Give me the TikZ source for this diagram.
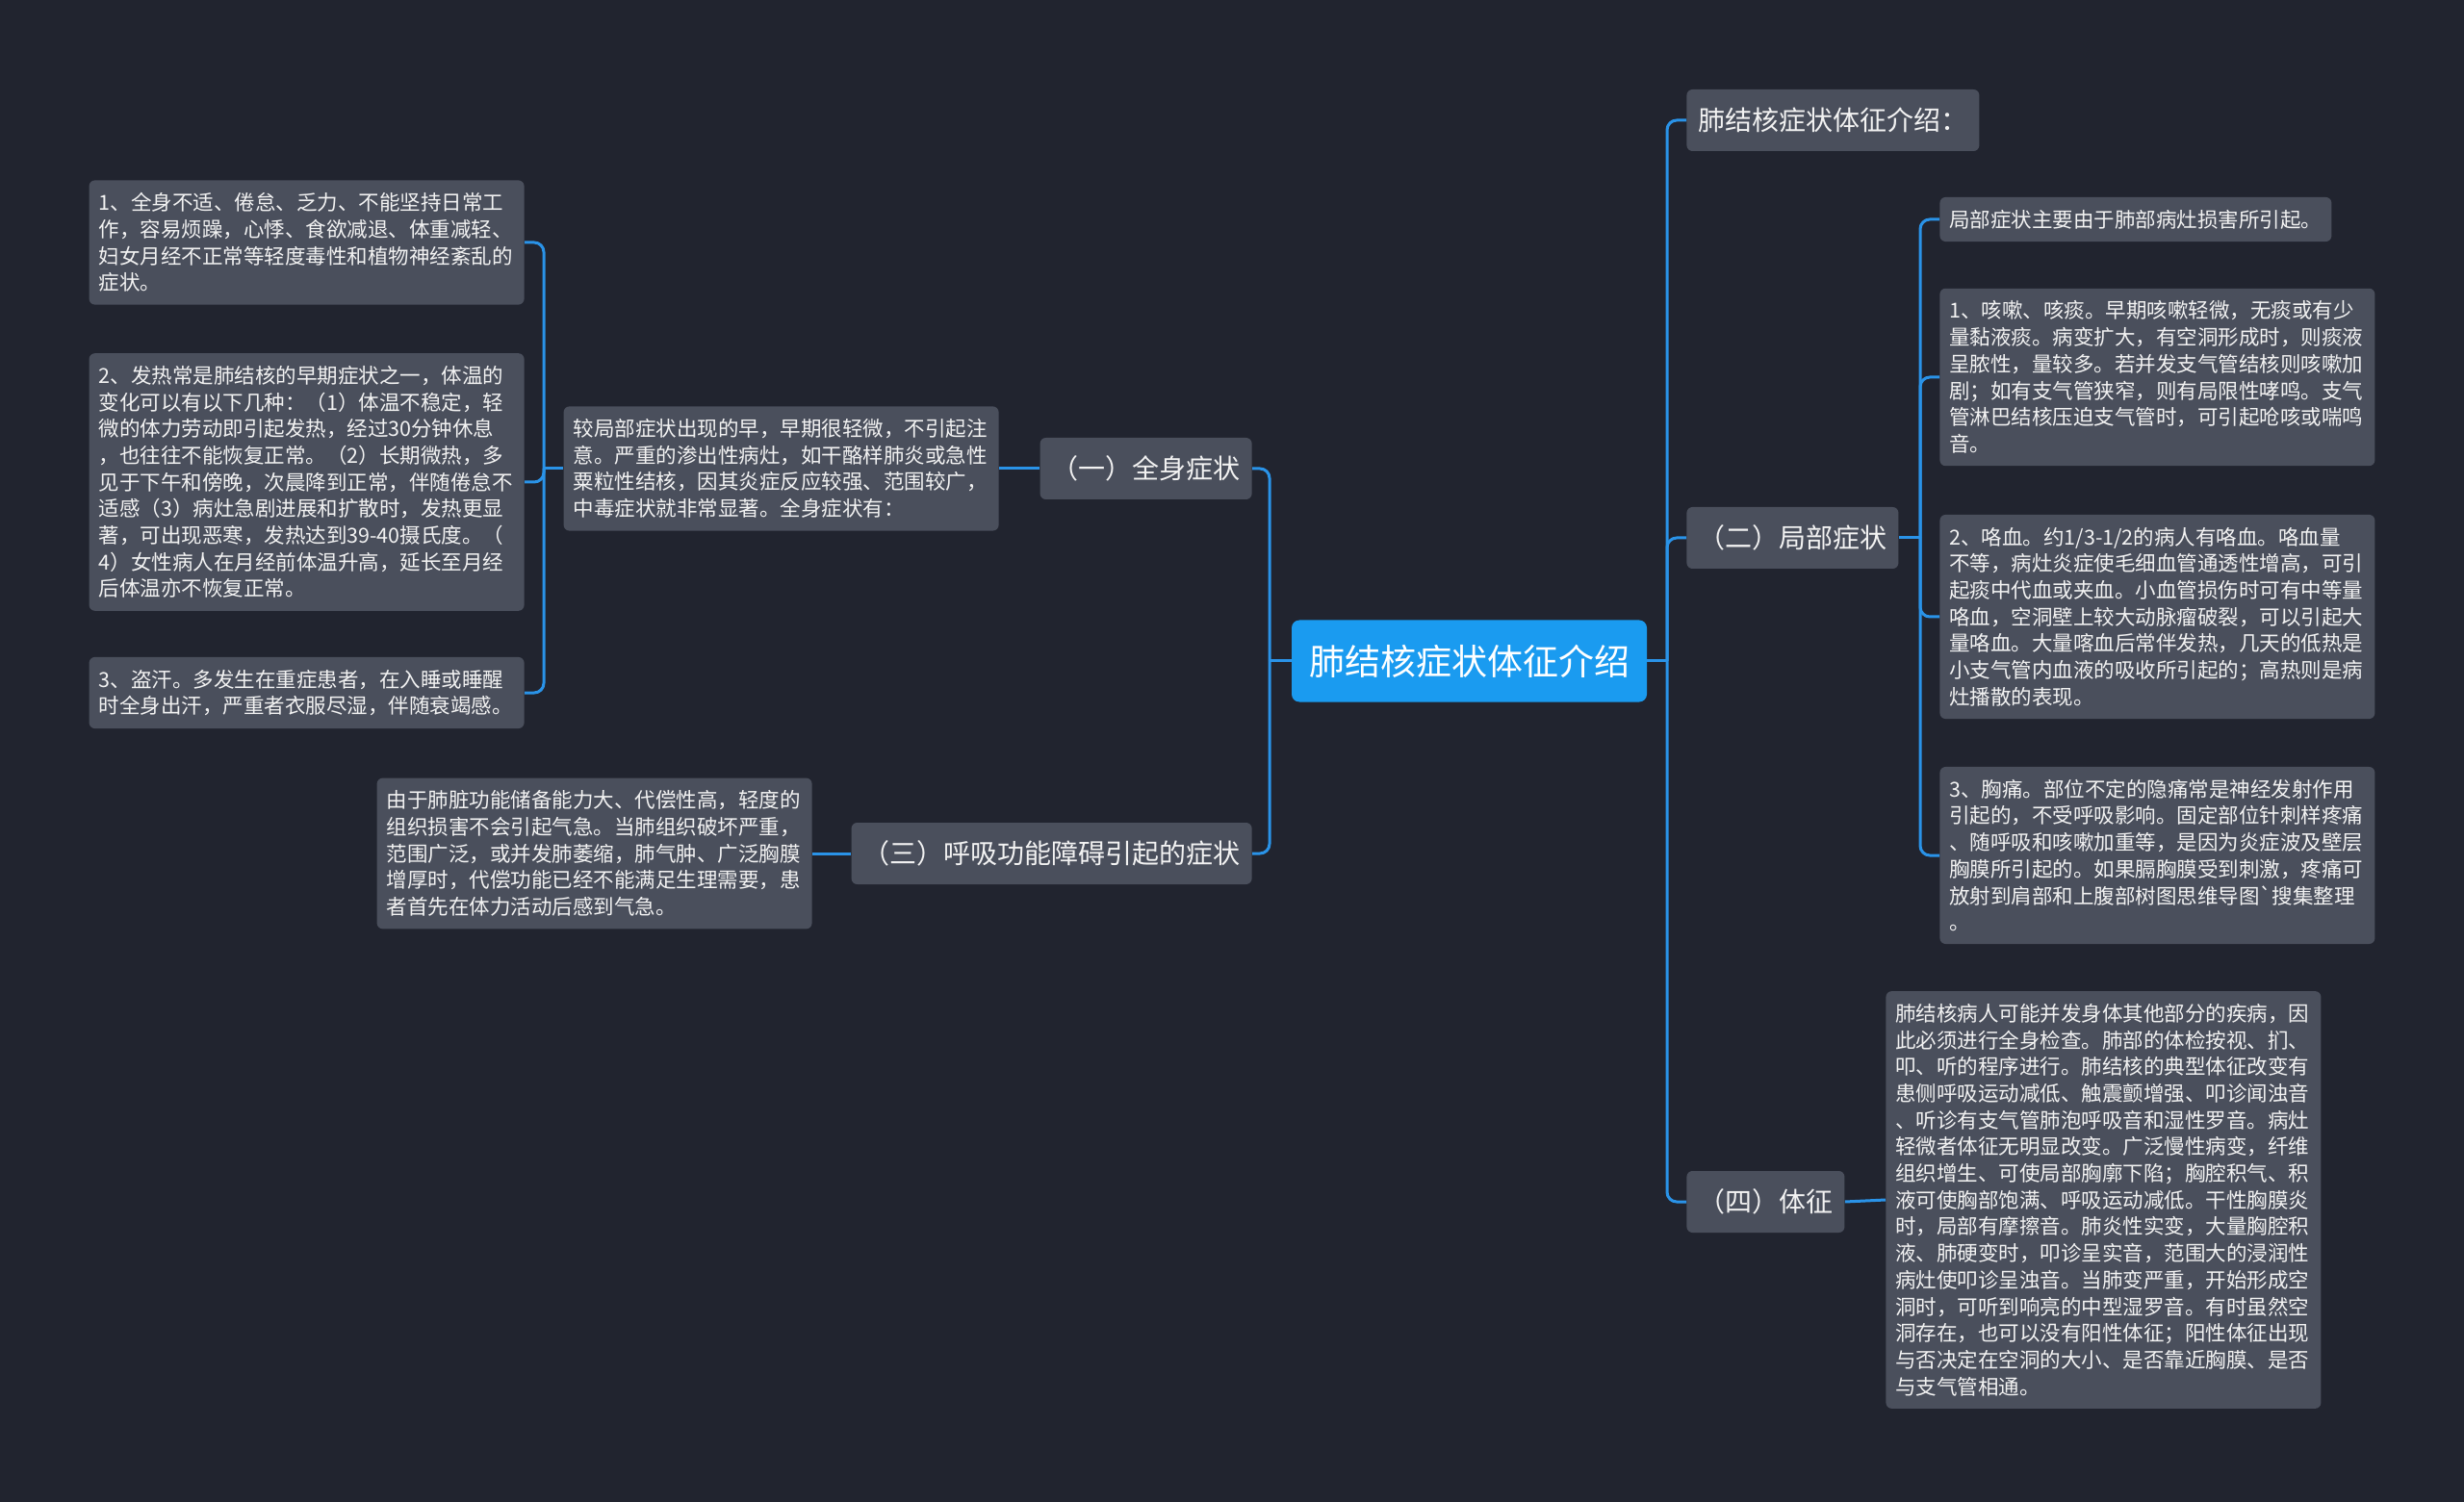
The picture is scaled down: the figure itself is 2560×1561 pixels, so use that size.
\documentclass[tikz,border=0pt]{standalone}
\usepackage{xcolor}
\usepackage{tikz}
\usepackage{fontspec}
\usetikzlibrary{positioning, calc}
\newfontfamily\cjk{Noto Sans CJK SC}
\definecolor{bgcolor}{HTML}{21242F}
\definecolor{boxcolor}{HTML}{4A4F5C}
\definecolor{rootcolor}{HTML}{1A9BF0}
\definecolor{linkcolor}{HTML}{2A93E8}
\definecolor{textcolor}{HTML}{F2F2F2}

\begin{document}
\begin{tikzpicture}[
  x=0.5pt, y=-0.5pt,
  root/.style={
    rectangle,
    rounded corners=4pt,
    fill=rootcolor,
    text=white,
    font=\cjk\fontsize{18.5pt}{22pt}\selectfont,
    minimum width=184.5pt,
    minimum height=42.5pt,
    inner sep=0pt
  },
  topic/.style={
    rectangle,
    rounded corners=3pt,
    fill=boxcolor,
    text=textcolor,
    font=\cjk\fontsize{14pt}{17pt}\selectfont,
    minimum height=32pt,
    inner xsep=6pt,
    inner ysep=0pt
  },
  note/.style={
    rectangle,
    rounded corners=3pt,
    fill=boxcolor,
    text=textcolor,
    font=\cjk\fontsize{10.75pt}{13.85pt}\selectfont,
    align=left,
    inner xsep=5pt,
    inner ysep=6.5pt
  },
  leaf/.style={note, text width=216pt},
  link/.style={draw=linkcolor, line width=1.5pt, rounded corners=5pt}
]
  % Background
  \fill[bgcolor] (0,0) rectangle (2560,1561);
  \useasboundingbox (0,0) rectangle (2560,1561);

  % Centre
  \node[root] (root) at (1526.5,687) {肺结核症状体征介绍};

  % Left branches
  \node[topic, anchor=east] (general) at (1301,487) {（一）全身症状};
  \node[topic, anchor=east] (breath) at (1301,887) {（三）呼吸功能障碍引起的症状};

  \node[leaf, anchor=east] (generalintro) at (1038,487) {较局部症状出现的早，早期很轻微，不引起注\\意。严重的渗出性病灶，如干酪样肺炎或急性\\粟粒性结核，因其炎症反应较强、范围较广，\\中毒症状就非常显著。全身症状有：};
  \node[leaf, anchor=east] (breathnote) at (844,887) {由于肺脏功能储备能力大、代偿性高，轻度的\\组织损害不会引起气急。当肺组织破坏严重，\\范围广泛，或并发肺萎缩，肺气肿、广泛胸膜\\增厚时，代偿功能已经不能满足生理需要，患\\者首先在体力活动后感到气急。};

  \node[leaf, anchor=east] (fatigue) at (545,252) {1、全身不适、倦怠、乏力、不能坚持日常工\\作，容易烦躁，心悸、食欲减退、体重减轻、\\妇女月经不正常等轻度毒性和植物神经紊乱的\\症状。};
  \node[leaf, anchor=east] (fever) at (545,501) {2、发热常是肺结核的早期症状之一，体温的\\变化可以有以下几种：（1）体温不稳定，轻\\微的体力劳动即引起发热，经过30分钟休息\\，也往往不能恢复正常。（2）长期微热，多\\见于下午和傍晚，次晨降到正常，伴随倦怠不\\适感（3）病灶急剧进展和扩散时，发热更显\\著，可出现恶寒，发热达到39-40摄氏度。（\\4）女性病人在月经前体温升高，延长至月经\\后体温亦不恢复正常。};
  \node[leaf, anchor=east] (sweat) at (545,720) {3、盗汗。多发生在重症患者，在入睡或睡醒\\时全身出汗，严重者衣服尽湿，伴随衰竭感。};

  % Right branches
  \node[topic, anchor=west] (intro) at (1752,125) {肺结核症状体征介绍：};
  \node[topic, anchor=west] (local) at (1752,559) {（二）局部症状};
  \node[topic, anchor=west] (signs) at (1752,1249) {（四）体征};

  \node[note, anchor=west] (localintro) at (2015,228) {局部症状主要由于肺部病灶损害所引起。};
  \node[leaf, anchor=west] (cough) at (2015,392) {1、咳嗽、咳痰。早期咳嗽轻微，无痰或有少\\量黏液痰。病变扩大，有空洞形成时，则痰液\\呈脓性，量较多。若并发支气管结核则咳嗽加\\剧；如有支气管狭窄，则有局限性哮鸣。支气\\管淋巴结核压迫支气管时，可引起呛咳或喘鸣\\音。};
  \node[leaf, anchor=west] (blood) at (2015,641) {2、咯血。约1/3-1/2的病人有咯血。咯血量\\不等，病灶炎症使毛细血管通透性增高，可引\\起痰中代血或夹血。小血管损伤时可有中等量\\咯血，空洞壁上较大动脉瘤破裂，可以引起大\\量咯血。大量喀血后常伴发热，几天的低热是\\小支气管内血液的吸收所引起的；高热则是病\\灶播散的表现。};
  \node[leaf, anchor=west] (chestpain) at (2015,889) {3、胸痛。部位不定的隐痛常是神经发射作用\\引起的，不受呼吸影响。固定部位针刺样疼痛\\、随呼吸和咳嗽加重等，是因为炎症波及壁层\\胸膜所引起的。如果膈胸膜受到刺激，疼痛可\\放射到肩部和上腹部树图思维导图`搜集整理\\。};
  \node[leaf, anchor=west] (signsnote) at (1959,1247) {肺结核病人可能并发身体其他部分的疾病，因\\此必须进行全身检查。肺部的体检按视、扪、\\叩、听的程序进行。肺结核的典型体征改变有\\患侧呼吸运动减低、触震颤增强、叩诊闻浊音\\、听诊有支气管肺泡呼吸音和湿性罗音。病灶\\轻微者体征无明显改变。广泛慢性病变，纤维\\组织增生、可使局部胸廓下陷；胸腔积气、积\\液可使胸部饱满、呼吸运动减低。干性胸膜炎\\时，局部有摩擦音。肺炎性实变，大量胸腔积\\液、肺硬变时，叩诊呈实音，范围大的浸润性\\病灶使叩诊呈浊音。当肺变严重，开始形成空\\洞时，可听到响亮的中型湿罗音。有时虽然空\\洞存在，也可以没有阳性体征；阳性体征出现\\与否决定在空洞的大小、是否靠近胸膜、是否\\与支气管相通。};

  % Junctions
  \coordinate (lj) at (1319,687);
  \coordinate (rj) at (1732,687);
  \coordinate (gj) at (565,487);
  \coordinate (loj) at (1995,559);

  % Connectors
  \draw[link] (root.west) -- (lj);
  \draw[link] (general.east) -| (lj);
  \draw[link] (breath.east) -| (lj);
  \draw[link] (general.west) -- (generalintro.east);
  \draw[link] (breath.west) -- (breathnote.east);
  \draw[link] (generalintro.west) -- (gj);
  \draw[link] (fatigue.east) -| (gj);
  \draw[link] (fever.east) -| (gj);
  \draw[link] (sweat.east) -| (gj);

  \draw[link] (root.east) -- (rj);
  \draw[link] (intro.west) -| (rj);
  \draw[link] (local.west) -| (rj);
  \draw[link] (signs.west) -| (rj);
  \draw[link] (local.east) -- (loj);
  \draw[link] (localintro.west) -| (loj);
  \draw[link] (cough.west) -| (loj);
  \draw[link] (blood.west) -| (loj);
  \draw[link] (chestpain.west) -| (loj);
  \draw[link] (signs.east) -- (signsnote.west);
\end{tikzpicture}
\end{document}
